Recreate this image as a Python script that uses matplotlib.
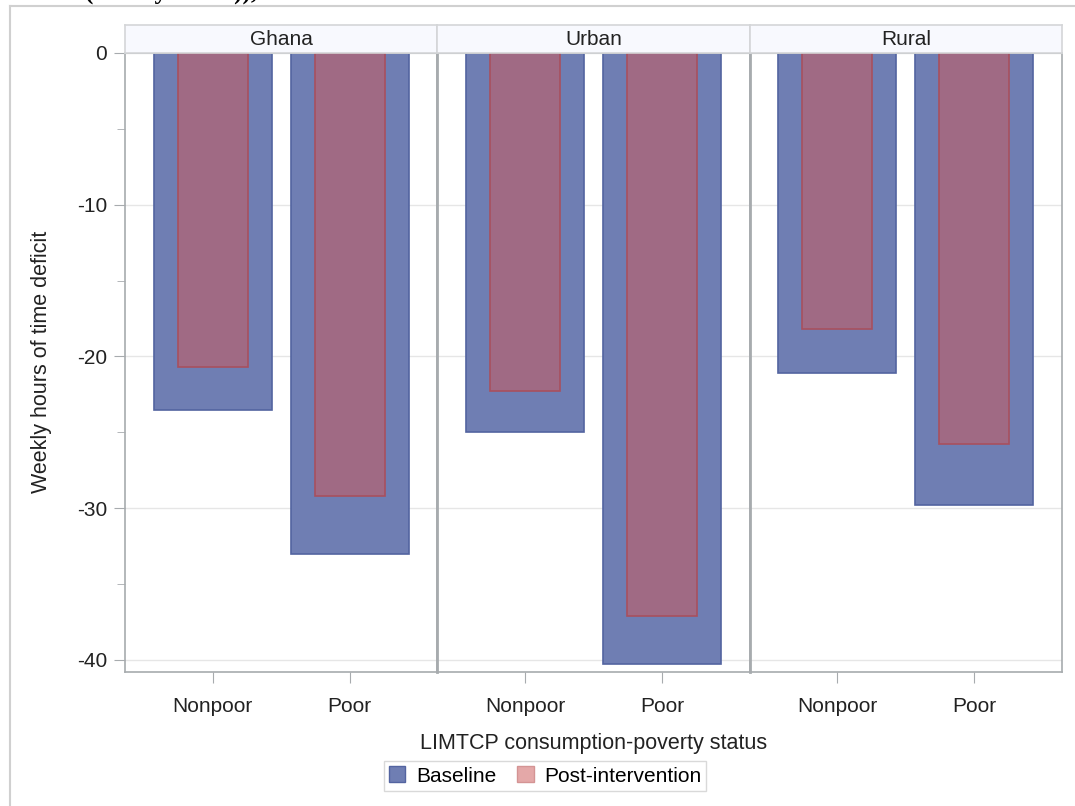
import numpy as np
import matplotlib.pyplot as plt
from matplotlib.patches import Patch
from matplotlib.lines import Line2D

plt.rcParams['font.family'] = ['Liberation Sans', 'DejaVu Sans']
plt.rcParams['axes.unicode_minus'] = False

panels = ['Ghana', 'Urban', 'Rural']
categories = ['Nonpoor', 'Poor']
baseline = [[-23.5, -33.0], [-25.0, -40.3], [-21.1, -29.8]]
post = [[-20.7, -29.2], [-22.3, -37.1], [-18.2, -25.8]]

base_fc = '#6f7eb3'
base_ec = '#5364a0'
post_fc = '#a06a84'
post_ec = '#a8505e'
legend_post = '#e4a8a8'
frame = '#a7abae'
txt = '#222222'

W, H = 1075, 806
fig = plt.figure(figsize=(W / 100, H / 100), dpi=100)

# outer frame of the page graphic
fig.add_artist(Line2D([10 / W, 1], [1 - 6 / H, 1 - 6 / H], color='#d0d0d0', lw=1.5))
fig.add_artist(Line2D([10 / W, 10 / W], [0, 1 - 6 / H], color='#d0d0d0', lw=1.5))
fig.text(85 / W, 1 + 1 / H, '(weekly hours)),', family='Liberation Serif', weight='bold',
         fontsize=18, va='baseline', ha='left')

left, right = 125, 1062
top, bottom = 53, 672
pw = (right - left) / 3
x = np.arange(len(categories))

for i, name in enumerate(panels):
    ax = fig.add_axes([(left + i * pw) / W, 1 - bottom / H, pw / W, (bottom - top) / H])
    ax.bar(x, baseline[i], width=0.86, color=base_fc, edgecolor=base_ec, lw=1.2, zorder=2)
    ax.bar(x, post[i], width=0.51, color=post_fc, edgecolor=post_ec, lw=1.2, zorder=3)
    ax.set_xlim(-0.64, 1.64)
    ax.set_ylim(-40.8, 0)
    ax.set_yticks([0, -10, -20, -30, -40])
    ax.set_yticks(np.arange(-35, 0, 10), minor=True)
    ax.yaxis.grid(True, color='#e6e6e6', lw=1, zorder=0)
    ax.set_xticks(x)
    ax.set_xticklabels(categories, fontsize=15, color=txt)
    ax.tick_params(axis='x', length=8, color=frame, pad=10)
    for s in ax.spines.values():
        s.set_color(frame)
        s.set_linewidth(1.2)
    if i > 0:
        ax.spines['left'].set_linewidth(2)
        ax.tick_params(axis='y', left=False, labelleft=False, which='both')
    else:
        ax.tick_params(axis='y', which='both', length=8, color=frame, labelsize=15,
                       labelcolor=txt, pad=5)
        ax.tick_params(axis='y', which='minor', length=6)
    # header strip
    hx = fig.add_axes([(left + i * pw) / W, 1 - top / H, pw / W, 28 / H])
    hx.set_xticks([])
    hx.set_yticks([])
    hx.set_facecolor('#f8f9fe')
    for s in hx.spines.values():
        s.set_color('#d4d6d8')
        s.set_linewidth(1.2)
    hx.text(0.5, 0.47, name, ha='center', va='center', fontsize=15, color=txt,
            transform=hx.transAxes)

fig.text(42 / W, 1 - 362 / H, 'Weekly hours of time deficit', rotation=90,
         ha='center', va='center', fontsize=15.5, color=txt)
fig.text((left + right) / 2 / W, 1 - 744 / H, 'LIMTCP consumption-poverty status',
         ha='center', va='center', fontsize=15.5, color=txt)

handles = [Patch(facecolor=base_fc, edgecolor=base_ec, label='Baseline'),
           Patch(facecolor=legend_post, edgecolor='#d49494', label='Post-intervention')]
leg = fig.legend(handles=handles, loc='center', bbox_to_anchor=(545 / W, 1 - 776 / H),
                 ncol=2, fontsize=15, frameon=True, fancybox=False, edgecolor='#d0d0d0',
                 handlelength=0.8, handleheight=0.8, handletextpad=0.5, columnspacing=1.0,
                 borderpad=0.25, borderaxespad=0)
leg.get_frame().set_linewidth(1)

fig.savefig('out.png', dpi=100)
